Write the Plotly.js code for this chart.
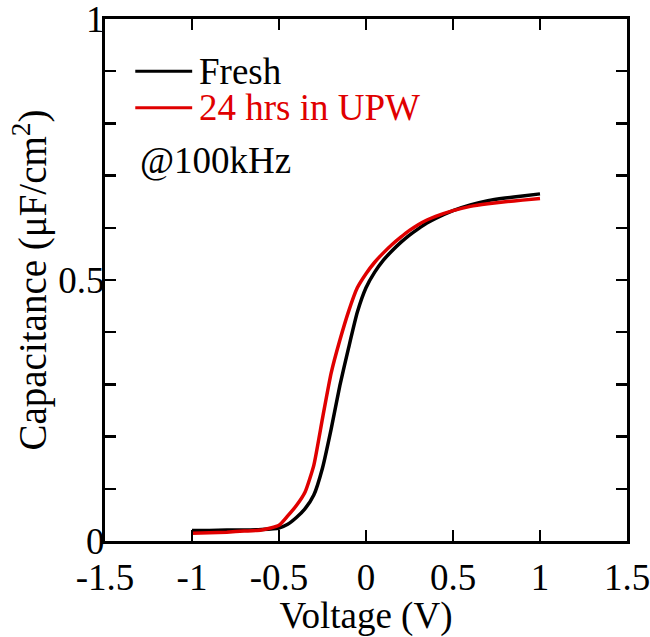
<!DOCTYPE html>
<html>
<head>
<meta charset="utf-8">
<script src="https://cdn.plot.ly/plotly-3.0.1.min.js"></script>
<style>html,body{margin:0;padding:0;background:#fff}</style>
</head>
<body>
<div id="chart" style="width:650px;height:637px"></div>
<script>
var voltage = [-1.0,-0.9,-0.8,-0.7,-0.6,-0.5,-0.45,-0.4,-0.35,-0.3,-0.25,-0.2,-0.15,-0.1,-0.05,0.0,0.05,0.1,0.15,0.2,0.25,0.3,0.35,0.4,0.5,0.6,0.7,0.8,0.9,1.0];
var freshC = [0.020,0.020,0.021,0.021,0.022,0.025,0.032,0.045,0.062,0.088,0.140,0.215,0.298,0.370,0.438,0.485,0.515,0.538,0.556,0.572,0.586,0.598,0.609,0.618,0.633,0.644,0.652,0.657,0.661,0.665];
var upwC = [0.015,0.016,0.017,0.019,0.021,0.030,0.048,0.068,0.094,0.145,0.235,0.322,0.385,0.440,0.485,0.512,0.534,0.552,0.568,0.582,0.595,0.606,0.615,0.622,0.633,0.641,0.646,0.650,0.653,0.656];
var seriesNames = ['Fresh', '24 hrs in UPW'];
var seriesColors = ['#000000', '#e00000'];
var note = '@100kHz';
var xTickVals = [-1.5, -1, -0.5, 0, 0.5, 1, 1.5];
var xTickText = ['-1.5', '-1', '-0.5', '0', '0.5', '1', '1.5'];
var yTickVals = [0, 0.5, 1];
var yTickText = ['0', '0.5', '1'];
var xTitle = 'Voltage (V)';
var yTitle = 'Capacitance (\u03bcF/cm<sup>2</sup>)';

var FONT = "'Liberation Serif', 'DejaVu Serif', serif";
var FS = 37;

var traces = [
  {x: voltage, y: freshC, name: seriesNames[0], mode: 'lines', line: {color: seriesColors[0], width: 3.5, shape: 'spline', smoothing: 0.5}},
  {x: voltage, y: upwC, name: seriesNames[1], mode: 'lines', line: {color: seriesColors[1], width: 3.5, shape: 'spline', smoothing: 0.5}}
];

var legendY = [0.9, 0.83];
var shapes = [], annotations = [];
for (var i = 0; i < 2; i++) {
  shapes.push({type: 'line', xref: 'paper', yref: 'paper', x0: 0.058, x1: 0.167, y0: legendY[i], y1: legendY[i], line: {color: seriesColors[i], width: 3}});
  annotations.push({xref: 'paper', yref: 'paper', x: 0.176, y: legendY[i], xanchor: 'left', yanchor: 'middle', text: seriesNames[i], showarrow: false, font: {family: FONT, size: FS, color: seriesColors[i]}});
}
annotations.push({xref: 'paper', yref: 'paper', x: 0.064, y: 0.729, xanchor: 'left', yanchor: 'middle', text: note, showarrow: false, font: {family: FONT, size: FS, color: '#000'}});

var layout = {
  width: 650, height: 637,
  margin: {l: 105, r: 23, t: 19, b: 96},
  paper_bgcolor: '#fff', plot_bgcolor: '#fff',
  showlegend: false,
  font: {family: FONT, size: FS, color: '#000'},
  xaxis: {
    range: [-1.5, 1.5], tickmode: 'array', tickvals: xTickVals, ticktext: xTickText,
    showgrid: false, zeroline: false, ticklabeloverflow: 'allow',
    showline: true, linewidth: 3, linecolor: '#000', mirror: 'ticks',
    ticks: 'inside', ticklen: 11, tickwidth: 2.5, tickcolor: '#000',
    tickfont: {family: FONT, size: FS}, ticklabelstandoff: 2,
    title: {text: xTitle, font: {family: FONT, size: FS}, standoff: 0}
  },
  yaxis: {
    range: [0, 1], tickmode: 'array', tickvals: yTickVals, ticktext: yTickText,
    showgrid: false, zeroline: false, ticklabeloverflow: 'allow',
    showline: true, linewidth: 3, linecolor: '#000', mirror: 'ticks',
    ticks: 'inside', ticklen: 11, tickwidth: 2.5, tickcolor: '#000',
    minor: {tickmode: 'linear', tick0: 0, dtick: 0.1, ticks: 'inside', ticklen: 11, tickwidth: 2.5, tickcolor: '#000', showgrid: false},
    tickfont: {family: FONT, size: FS}, ticklabelstandoff: -10,
    title: {text: yTitle, font: {family: FONT, size: 39}, standoff: 0}
  },
  shapes: shapes,
  annotations: annotations
};

Plotly.newPlot('chart', traces, layout, {displayModeBar: false, staticPlot: true});
</script>
</body>
</html>
